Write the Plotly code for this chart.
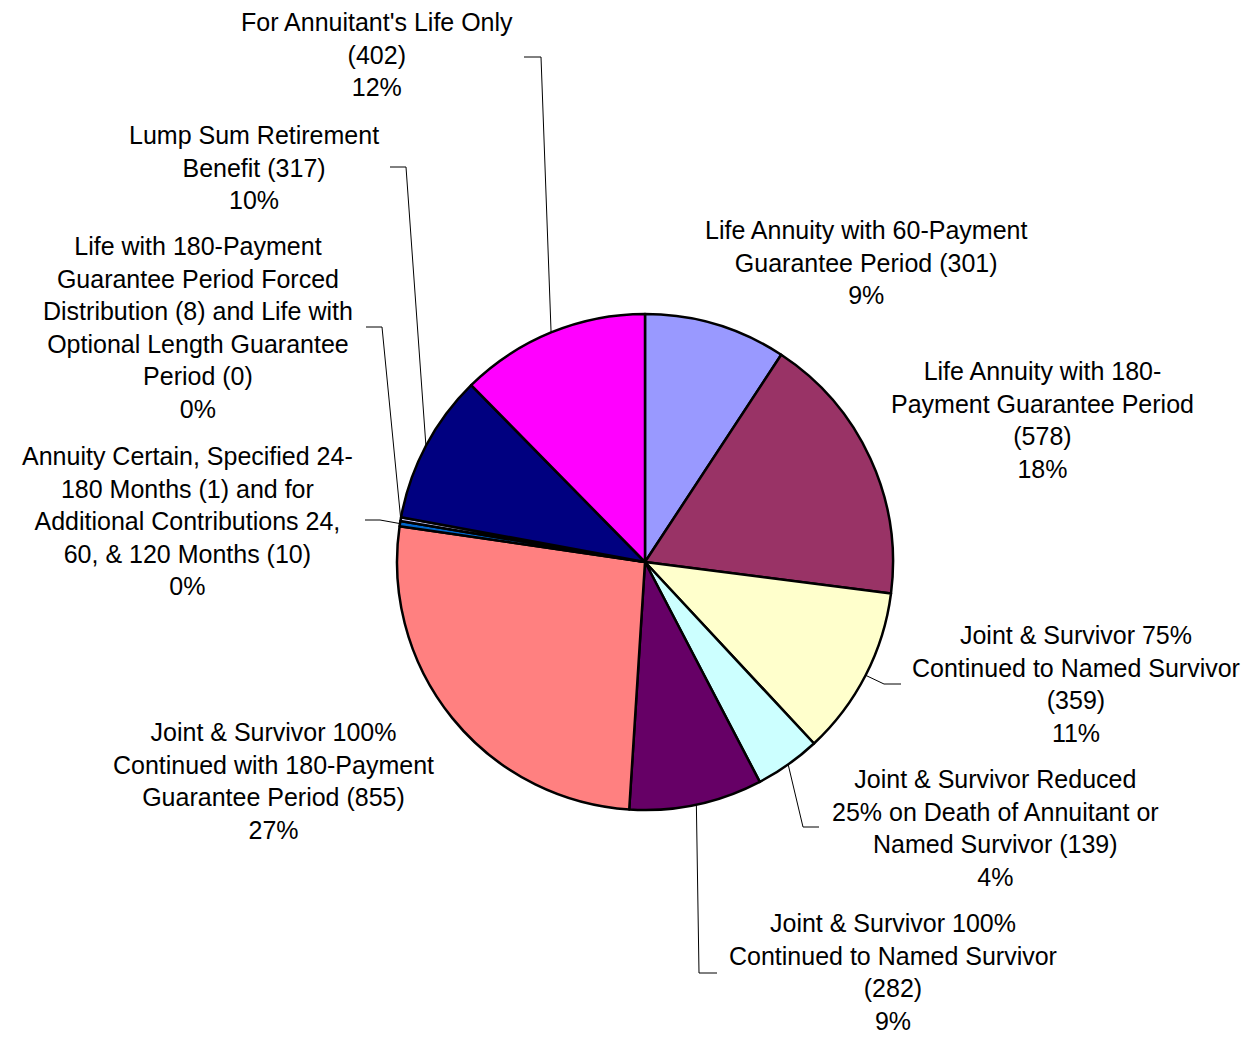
import math
import plotly.graph_objects as go

W, H = 1257, 1037

# ---- data ----
categories = [
    "Life Annuity with 60-Payment Guarantee Period",
    "Life Annuity with 180-Payment Guarantee Period",
    "Joint & Survivor 75% Continued to Named Survivor",
    "Joint & Survivor Reduced 25% on Death of Annuitant or Named Survivor",
    "Joint & Survivor 100% Continued to Named Survivor",
    "Joint & Survivor 100% Continued with 180-Payment Guarantee Period",
    "Annuity Certain, Specified 24-180 Months and for Additional Contributions 24, 60, & 120 Months",
    "Life with 180-Payment Guarantee Period Forced Distribution and Life with Optional Length Guarantee Period",
    "Lump Sum Retirement Benefit",
    "For Annuitant's Life Only",
]
counts = [301, 578, 359, 139, 282, 855, 11, 8, 317, 402]
pct_labels = ["9%", "18%", "11%", "4%", "9%", "27%", "0%", "0%", "10%", "12%"]
label_texts = [
    "Life Annuity with 60-Payment<br>Guarantee Period (301)",
    "Life Annuity with 180-<br>Payment Guarantee Period<br>(578)",
    "Joint & Survivor 75%<br>Continued to Named Survivor<br>(359)",
    "Joint & Survivor Reduced<br>25% on Death of Annuitant or<br>Named Survivor (139)",
    "Joint & Survivor 100%<br>Continued to Named Survivor<br>(282)",
    "Joint & Survivor 100%<br>Continued with 180-Payment<br>Guarantee Period (855)",
    "Annuity Certain, Specified 24-<br>180 Months (1) and for<br>Additional Contributions 24,<br>60, & 120 Months (10)",
    "Life with 180-Payment<br>Guarantee Period Forced<br>Distribution (8) and Life with<br>Optional Length Guarantee<br>Period (0)",
    "Lump Sum Retirement<br>Benefit (317)",
    "For Annuitant's Life Only<br>(402)",
]
colors = ["#9999FF", "#993366", "#FFFFCC", "#CCFFFF", "#660066",
          "#FF8080", "#0066CC", "#CCCCFF", "#000080", "#FF00FF"]

# ---- layout (pixel positions) ----
cx, cy, R = 645, 562, 248
label_pos = [(866, 262), (1042, 420), (1076, 684), (995, 828), (893, 972),
             (273, 781), (187, 521), (198, 327), (254, 167), (377, 55)]
# elbow and end points of leader lines
leaders = {
    2: [(884, 684), (901, 684)],
    3: [(803, 827), (819, 827)],
    4: [(699, 973), (717, 973)],
    6: [(380, 520), (365, 520)],
    7: [(382, 327), (366, 327)],
    8: [(406, 167), (390, 167)],
    9: [(541, 57), (524, 57)],
}

def px(x, y):
    return x / W, 1 - y / H

fig = go.Figure()
x0, y1 = px(cx - R, cy - R)
x1, y0 = px(cx + R, cy + R)
fig.add_trace(go.Pie(
    labels=categories, values=counts, sort=False, direction="clockwise",
    rotation=0, textinfo="none", hoverinfo="label+value+percent",
    marker=dict(colors=colors, line=dict(color="black", width=2.5)),
    domain=dict(x=[x0, x1], y=[y0, y1]), showlegend=False,
))

total = sum(counts)
cum = 0
annotations = []
shapes = []
for i, v in enumerate(counts):
    mid = (cum + v / 2) / total * 2 * math.pi
    cum += v
    ex = cx + R * math.sin(mid)
    ey = cy - R * math.cos(mid)
    lx, ly = label_pos[i]
    ax, ay = px(lx, ly)
    annotations.append(dict(
        x=ax, y=ay, xref="paper", yref="paper", xanchor="center", yanchor="middle",
        text=label_texts[i] + "<br>" + pct_labels[i], showarrow=False, align="center",
        font=dict(family="Liberation Sans, Arial, sans-serif", size=25, color="black"),
    ))
    if i in leaders:
        pts = [(ex, ey)] + leaders[i]
        path = ""
        for k, (qx, qy) in enumerate(pts):
            fx, fy = px(qx, qy)
            path += ("M" if k == 0 else "L") + f" {fx} {fy} "
        shapes.append(dict(type="path", path=path, xref="paper", yref="paper",
                           line=dict(color="black", width=1)))

fig.update_layout(
    width=W, height=H, margin=dict(l=0, r=0, t=0, b=0),
    paper_bgcolor="white", plot_bgcolor="white",
    annotations=annotations, shapes=shapes, showlegend=False,
)
fig.write_html(
    "out.html",
    config={"displayModeBar": False},
    post_script="document.body.style.margin='0';document.body.style.overflow='hidden';",
)
